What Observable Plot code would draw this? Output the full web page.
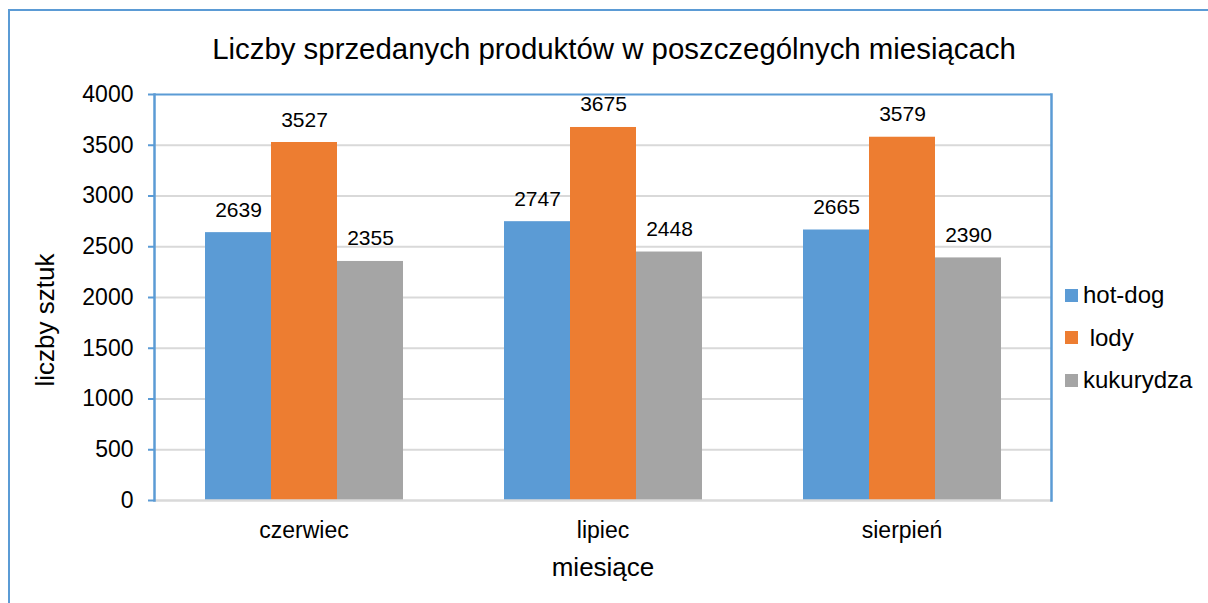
<!DOCTYPE html>
<html>
<head>
<meta charset="utf-8">
<script src="https://cdn.jsdelivr.net/npm/d3@7"></script>
<script src="https://cdn.jsdelivr.net/npm/@observablehq/plot@0.6"></script>
<style>
  body { margin: 0; background: #fff; font-family: "Liberation Sans", Arial, sans-serif; color: #000; }
  #wrap { position: relative; width: 1208px; height: 603px; overflow: hidden; }
  #border { position: absolute; left: 8px; top: 9px; width: 1400px; height: 800px;
            border-left: 2px solid #5b9bd5; border-top: 2px solid #5b9bd5; }
  #title { position: absolute; left: 0; top: 34px; width: 1228px; text-align: center;
           font-size: 29.4px; line-height: 29px; white-space: nowrap; }
  #chart { position: absolute; left: 0; top: 0; }
  #ylabel { position: absolute; left: 45px; top: 320px; font-size: 26px; white-space: nowrap;
            transform: translate(-50%, -50%) rotate(-90deg); line-height: 26px; }
  #legend { position: absolute; left: 1065px; top: 283px; font-size: 24px; }
  .row { display: flex; align-items: center; height: 24px; margin-bottom: 18.5px; white-space: pre; }
  .sw { width: 13px; height: 13px; margin-right: 5px; flex: none; }
</style>
</head>
<body>
<div id="wrap">
  <div id="border"></div>
  <div id="chart"></div>
  <div id="title">Liczby sprzedanych produktów w poszczególnych miesiącach</div>
  <div id="ylabel">liczby sztuk</div>
  <div id="legend"></div>
</div>
<script>
const months = ["czerwiec", "lipiec", "sierpień"];
const products = ["hot-dog", "lody", "kukurydza"];
const legendLabels = ["hot-dog", " lody", "kukurydza"];
const hotdog = [2639, 2747, 2665];
const lody = [3527, 3675, 3579];
const kukurydza = [2355, 2448, 2390];
const colors = ["#5b9bd5", "#ed7d31", "#a5a5a5"];
const yTicks = [0, 500, 1000, 1500, 2000, 2500, 3000, 3500, 4000];

const series = [hotdog, lody, kukurydza];
const data = [];
months.forEach((m, i) => products.forEach((p, j) => data.push({month: m, product: p, value: series[j][i]})));

const blue = "#5b9bd5";
const grid = "#d9d9d9";

const chart = Plot.plot({
  width: 1208,
  height: 603,
  marginLeft: 154,
  marginRight: 157,
  marginTop: 94,
  marginBottom: 103,
  style: { fontFamily: "'Liberation Sans', Arial, sans-serif", fontSize: "23px", color: "#000", background: "transparent" },
  fx: { domain: months, padding: 0 },
  x: { domain: products, paddingInner: 0, paddingOuter: 0.75, axis: null },
  y: { domain: [0, 4000] },
  color: { domain: products, range: colors },
  marks: [
    Plot.ruleY(yTicks.filter(d => d > 0 && d < 4000), { stroke: grid, strokeWidth: 2 }),
    Plot.barY(data, { fx: "month", x: "product", y: "value", fill: "product" }),
    Plot.text(data, { fx: "month", x: "product", y: "value", text: d => String(d.value),
                      dy: -16, lineAnchor: "bottom", fontSize: 21, fill: "#000" }),
    Plot.ruleY([0], { stroke: grid, strokeWidth: 2.5 }),
    Plot.ruleY([4000], { stroke: blue, strokeWidth: 2 }),
    Plot.frame({ anchor: "left", facetAnchor: "left", stroke: blue, strokeWidth: 2.5 }),
    Plot.frame({ anchor: "right", facetAnchor: "right", stroke: blue, strokeWidth: 2.5 }),
    Plot.axisY({ ticks: yTicks, tickSize: 6, tickPadding: 15, stroke: blue, strokeWidth: 2,
                 fill: "#000", fontSize: 23, tickFormat: d => String(d), label: null }),
    Plot.axisFx({ anchor: "bottom", tickSize: 0, tickPadding: 21, fontSize: 23, fill: "#000", label: null }),
    Plot.axisFx({ anchor: "bottom", ticks: [], label: "miesiące", labelArrow: "none", labelAnchor: "center",
                  labelOffset: 75, fontSize: 26, fill: "#000", tickSize: 0 })
  ]
});
document.getElementById("chart").appendChild(chart);

const legend = document.getElementById("legend");
products.forEach((p, i) => {
  const row = document.createElement("div");
  row.className = "row";
  const sw = document.createElement("span");
  sw.className = "sw";
  sw.style.background = colors[i];
  const t = document.createElement("span");
  t.textContent = legendLabels[i];
  row.appendChild(sw); row.appendChild(t);
  legend.appendChild(row);
});
</script>
</body>
</html>
